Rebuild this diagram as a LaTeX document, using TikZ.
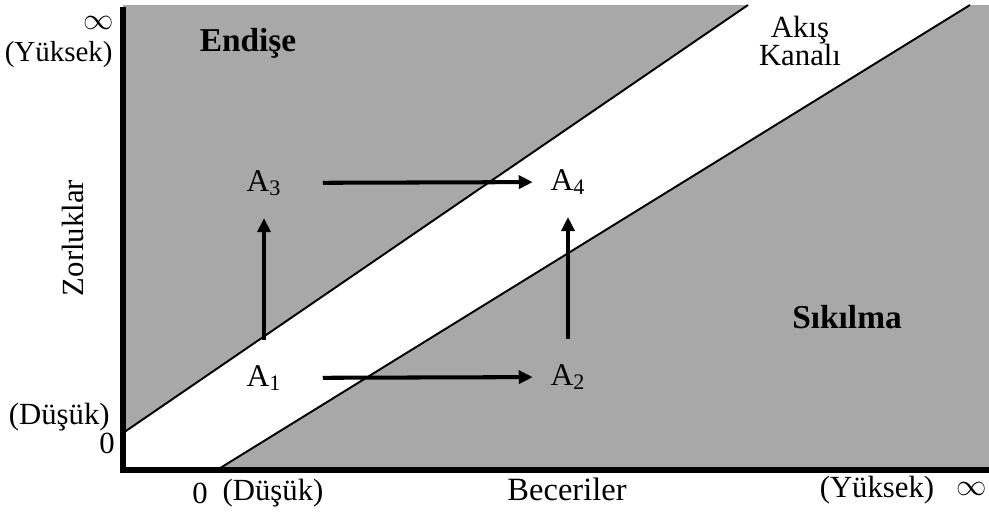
\documentclass[tikz,border=0pt]{standalone}
\usepackage{fontspec}
\setmainfont{Liberation Serif}
\usetikzlibrary{arrows.meta}

\definecolor{zonegray}{RGB}{168,168,168}

\tikzset{
	lbl/.style={font=\fontsize{17.5}{16}\selectfont, inner sep=0pt},
	zonelbl/.style={font=\fontsize{19}{16}\selectfont\bfseries, inner sep=0pt},
	stnode/.style={font=\fontsize{18}{18}\selectfont, inner sep=0pt},
	arr/.style={line width=2.3pt, -{Triangle[length=0.28cm, width=0.26cm]}},
	bound/.style={line width=1.1pt},
	axis/.style={line width=3.2pt, line join=miter}
}

\begin{document}
\begin{tikzpicture}
			\useasboundingbox (0, 0) rectangle (19.78, 10.26);
			% corners of the channel
			\coordinate (O) at (2.46, 0.86);
			\coordinate (UL) at (2.46, 1.6);
			\coordinate (UT) at (14.96, 10.16);
			\coordinate (LT) at (19.4, 10.16);
			\coordinate (LB) at (4.34, 0.86);
			\fill[zonegray] (O) rectangle (19.78, 10.16);
			\fill[white] (O) -- (UL) -- (UT) -- (LT) -- (LB) -- cycle;
			\draw[bound] (UL) -- (UT);
			\draw[bound] (LB) -- (LT);
			\draw[axis] (2.46, 10.12) -- (O) -- (19.78, 0.86);
			% states
			\node[stnode](A1) at (5.28, 2.7){A\textsubscript{1}};
			\node[stnode](A2) at (11.36, 2.72){A\textsubscript{2}};
			\node[stnode](A3) at (5.28, 6.6){A\textsubscript{3}};
			\node[stnode](A4) at (11.36, 6.62){A\textsubscript{4}};
			\draw[arr, shorten <=0.82cm, shorten >=0.35cm] (A1) -- (A2);
			\draw[arr, shorten <=0.82cm, shorten >=0.35cm] (A3) -- (A4);
			\draw[arr, shorten <=0.5cm, shorten >=0.44cm] (A1) -- (A3);
			\draw[arr, shorten <=0.5cm, shorten >=0.44cm] (A2) -- (A4);
			% zones
			\node[zonelbl](N1) at (4.96, 9.4){Endişe};
			\node[zonelbl](N2) at (16.94, 3.92){Sıkılma};
			\node[lbl, align=center](N3) at (16.0, 9.44){Akış\\Kanalı};
			% axis texts
			\node[lbl, rotate=90](N4) at (1.46, 5.5){Zorluklar};
			\node[lbl](N5) at (1.98, 9.8){$\infty$};
			\node[lbl, font=\fontsize{16.5}{16}\selectfont, anchor=east](N6) at (2.26, 9.16){(Yüksek)};
			\node[lbl, anchor=east](N7) at (2.2, 1.92){(Düşük)};
			\node[lbl, anchor=east](N8) at (2.3, 1.4){0};
			\node[lbl](N9) at (4.0, 0.4){0};
			\node[lbl](N10) at (5.46, 0.4){(Düşük)};
			\node[lbl, font=\fontsize{18.5}{16}\selectfont](N11) at (11.34, 0.48){Beceriler};
			\node[lbl](N12) at (17.54, 0.46){(Yüksek)};
			\node[lbl](N13) at (19.44, 0.48){$\infty$};
		\end{tikzpicture}
\end{document}
